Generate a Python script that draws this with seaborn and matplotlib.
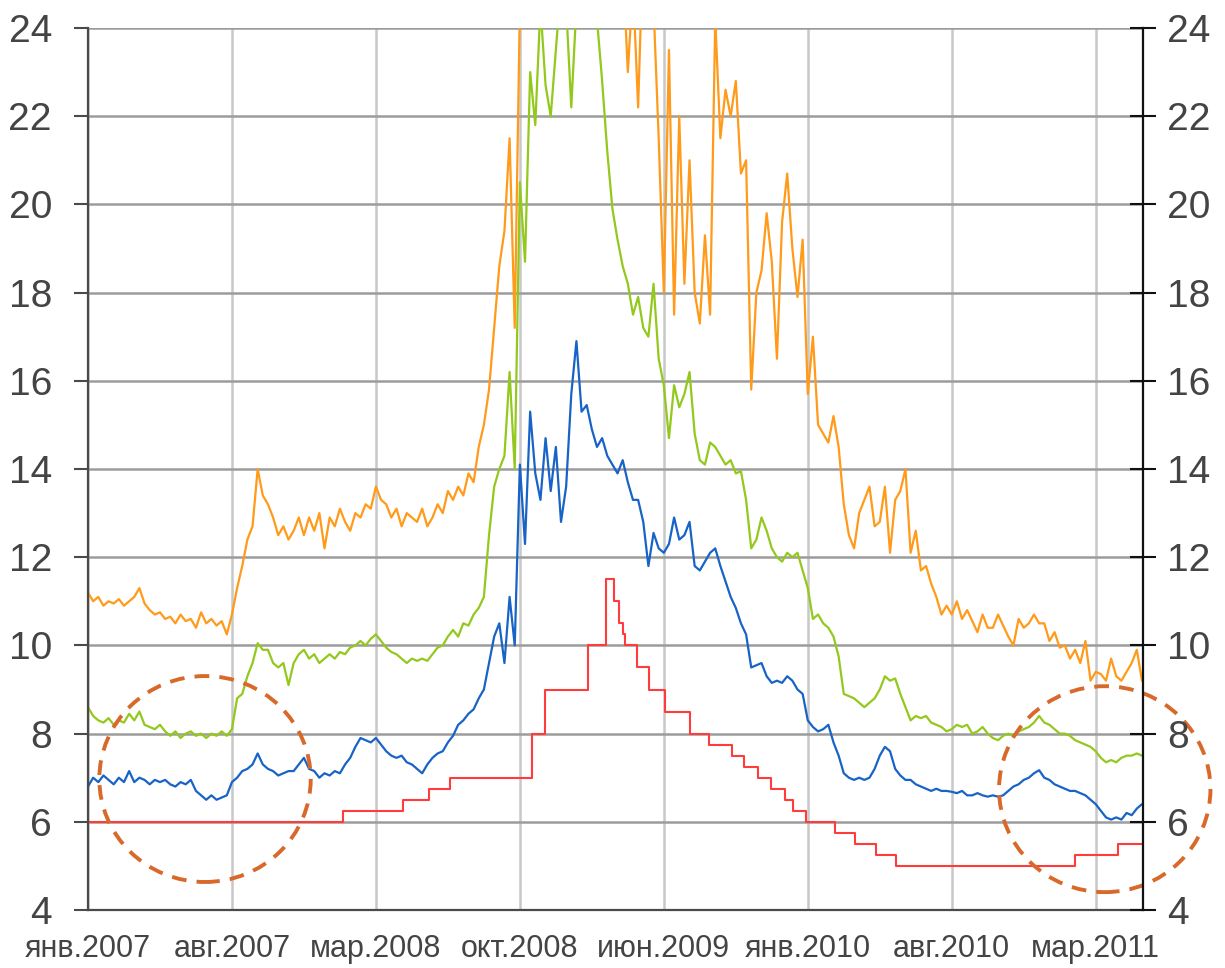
import numpy as np
import pandas as pd
import matplotlib
matplotlib.use('Agg')
import matplotlib.pyplot as plt
from matplotlib.patches import Ellipse
import seaborn as sns

# x in months since Jan 2007, one value every quarter month
step = 0.25
tick_pos = [0, 7, 14, 21, 28, 35, 42, 49]
tick_labels = ['янв.2007', 'авг.2007', 'мар.2008', 'окт.2008',
               'июн.2009', 'янв.2010', 'авг.2010', 'мар.2011']
y_ticks = [4, 6, 8, 10, 12, 14, 16, 18, 20, 22, 24]

orange = [
    11.2, 11.0, 11.1, 10.9, 11.0, 10.95, 11.05, 10.9,
    11.0, 11.1, 11.3, 10.95, 10.8, 10.7, 10.75, 10.6,
    10.65, 10.5, 10.7, 10.55, 10.6, 10.4, 10.75, 10.5,
    10.6, 10.45, 10.55, 10.25, 10.7, 11.3, 11.8, 12.4,
    12.7, 14.0, 13.4, 13.2, 12.9, 12.5, 12.7, 12.4,
    12.6, 12.9, 12.5, 12.9, 12.6, 13.0, 12.2, 12.9,
    12.7, 13.1, 12.8, 12.6, 13.0, 12.9, 13.2, 13.1,
    13.6, 13.3, 13.2, 12.9, 13.1, 12.7, 13.0, 12.9,
    12.8, 13.1, 12.7, 12.9, 13.2, 13.0, 13.5, 13.3,
    13.6, 13.4, 13.9, 13.7, 14.5, 15.0, 15.8, 17.2,
    18.6, 19.4, 21.5, 17.2, 24.5, 26.0, 27.0, 28.0,
    29.0, 30.0, 29.0, 31.0, 30.0, 29.0, 30.0, 31.0,
    30.0, 29.0, 28.0, 29.0, 28.0, 27.0, 28.0, 27.0,
    25.5, 23.0, 25.0, 22.2, 26.0, 25.5, 24.5, 21.5,
    18.0, 23.5, 17.5, 22.0, 18.2, 21.0, 18.0, 17.3,
    19.3, 17.5, 24.2, 21.5, 22.6, 22.0, 22.8, 20.7,
    21.0, 15.8, 18.0, 18.5, 19.8, 18.7, 16.5, 19.6,
    20.7, 19.0, 17.9, 19.2, 15.7, 17.0, 15.0, 14.8,
    14.6, 15.2, 14.5, 13.2, 12.5, 12.2, 13.0, 13.3,
    13.6, 12.7, 12.8, 13.6, 12.1, 13.3, 13.5, 14.0,
    12.1, 12.6, 11.7, 11.8, 11.4, 11.1, 10.7, 10.9,
    10.7, 11.0, 10.6, 10.8, 10.55, 10.3, 10.7, 10.4,
    10.4, 10.7, 10.45, 10.2, 10.0, 10.6, 10.4, 10.5,
    10.7, 10.5, 10.5, 10.1, 10.3, 9.95, 10.0, 9.7,
    9.9, 9.6, 10.1, 9.2, 9.4, 9.35, 9.2, 9.7,
    9.3, 9.2, 9.4, 9.6, 9.9, 9.2,
]

green = [
    8.6, 8.4, 8.3, 8.25, 8.35, 8.2, 8.3, 8.25,
    8.45, 8.3, 8.5, 8.2, 8.15, 8.1, 8.2, 8.05,
    7.95, 8.05, 7.9, 8.0, 8.05, 7.95, 8.0, 7.9,
    8.0, 7.95, 8.05, 7.95, 8.1, 8.8, 8.9, 9.3,
    9.6, 10.05, 9.9, 9.9, 9.6, 9.5, 9.6, 9.1,
    9.6, 9.8, 9.9, 9.7, 9.8, 9.6, 9.7, 9.8,
    9.7, 9.85, 9.8, 9.95, 10.0, 10.1, 10.0, 10.15,
    10.25, 10.1, 9.95, 9.85, 9.8, 9.7, 9.6, 9.7,
    9.65, 9.7, 9.65, 9.8, 9.95, 10.0, 10.2, 10.35,
    10.2, 10.5, 10.45, 10.7, 10.85, 11.1, 12.5, 13.6,
    14.0, 14.3, 16.2, 14.0, 20.5, 18.7, 23.0, 21.8,
    24.5, 22.7, 22.0, 23.5, 25.0, 24.5, 22.2, 24.5,
    25.0, 25.5, 26.0, 24.2, 22.8, 21.2, 19.9, 19.2,
    18.6, 18.2, 17.5, 17.9, 17.2, 17.0, 18.2, 16.5,
    15.9, 14.7, 15.9, 15.4, 15.7, 16.2, 14.8, 14.2,
    14.1, 14.6, 14.5, 14.3, 14.1, 14.2, 13.9, 13.95,
    13.3, 12.2, 12.4, 12.9, 12.6, 12.2, 12.0, 11.9,
    12.1, 12.0, 12.1, 11.7, 11.3, 10.6, 10.7, 10.5,
    10.4, 10.2, 9.75, 8.9, 8.85, 8.8, 8.7, 8.6,
    8.7, 8.8, 9.0, 9.3, 9.2, 9.25, 8.9, 8.6,
    8.3, 8.4, 8.35, 8.4, 8.25, 8.2, 8.15, 8.05,
    8.1, 8.2, 8.15, 8.2, 8.0, 8.05, 8.15, 8.0,
    7.9, 7.85, 7.95, 8.0, 7.95, 8.05, 8.1, 8.15,
    8.25, 8.4, 8.25, 8.2, 8.1, 8.0, 8.0, 7.95,
    7.85, 7.8, 7.75, 7.7, 7.6, 7.45, 7.35, 7.4,
    7.35, 7.45, 7.5, 7.5, 7.55, 7.5,
]

blue = [
    6.8, 7.0, 6.9, 7.05, 6.95, 6.85, 7.0, 6.9,
    7.15, 6.9, 7.0, 6.95, 6.85, 6.95, 6.9, 6.95,
    6.85, 6.8, 6.9, 6.85, 6.95, 6.7, 6.6, 6.5,
    6.6, 6.5, 6.55, 6.6, 6.9, 7.0, 7.15, 7.2,
    7.3, 7.55, 7.3, 7.2, 7.15, 7.05, 7.1, 7.15,
    7.15, 7.3, 7.45, 7.2, 7.15, 7.0, 7.1, 7.05,
    7.15, 7.1, 7.3, 7.45, 7.7, 7.9, 7.85, 7.8,
    7.9, 7.75, 7.6, 7.5, 7.45, 7.5, 7.35, 7.3,
    7.2, 7.1, 7.3, 7.45, 7.55, 7.6, 7.8, 7.95,
    8.2, 8.3, 8.45, 8.55, 8.8, 9.0, 9.6, 10.2,
    10.5, 9.6, 11.1, 10.0, 14.1, 12.3, 15.3, 13.9,
    13.3, 14.7, 13.5, 14.5, 12.8, 13.6, 15.7, 16.9,
    15.3, 15.45, 14.9, 14.5, 14.7, 14.3, 14.1, 13.9,
    14.2, 13.7, 13.3, 13.3, 12.8, 11.8, 12.55, 12.2,
    12.1, 12.3, 12.9, 12.4, 12.5, 12.8, 11.8, 11.7,
    11.9, 12.1, 12.2, 11.8, 11.45, 11.1, 10.85, 10.5,
    10.25, 9.5, 9.55, 9.6, 9.3, 9.15, 9.2, 9.15,
    9.3, 9.2, 9.0, 8.9, 8.3, 8.15, 8.05, 8.1,
    8.2, 7.8, 7.5, 7.1, 7.0, 6.95, 7.0, 6.95,
    7.0, 7.2, 7.5, 7.7, 7.6, 7.2, 7.05, 6.95,
    6.95, 6.85, 6.8, 6.75, 6.7, 6.75, 6.7, 6.7,
    6.68, 6.65, 6.7, 6.6, 6.6, 6.65, 6.6, 6.57,
    6.6, 6.57, 6.6, 6.7, 6.8, 6.85, 6.95, 7.0,
    7.1, 7.17, 7.0, 6.95, 6.85, 6.8, 6.75, 6.7,
    6.7, 6.65, 6.6, 6.5, 6.4, 6.25, 6.1, 6.05,
    6.1, 6.05, 6.2, 6.15, 6.3, 6.4,
]

# step line: month where each level starts
red_start = [0, 12.4, 15.3, 16.6, 17.6, 21.6, 22.2, 24.3, 25.2, 25.6, 25.8,
             26.0, 26.1, 26.7, 27.3, 28.05, 29.25, 30.2, 31.3, 31.9, 32.6,
             33.2, 33.9, 34.3, 34.9, 36.3, 37.3, 38.3, 39.3, 48.0, 50.1]
red_level = [6.0, 6.25, 6.5, 6.75, 7.0, 8.0, 9.0, 10.0, 11.5, 11.0, 10.5,
             10.25, 10.0, 9.5, 9.0, 8.5, 8.0, 7.75, 7.5, 7.25, 7.0,
             6.75, 6.5, 6.25, 6.0, 5.75, 5.5, 5.25, 5.0, 5.25, 5.5]
x_end = 51.3

sns.set_style('white')
plt.rcParams['font.family'] = ['Liberation Sans', 'DejaVu Sans']

fig = plt.figure(figsize=(12.25, 9.68), dpi=100)
ax = fig.add_axes([88 / 1225, 58 / 968, 1055 / 1225, 882 / 968])

months = np.arange(len(orange)) * step
df = pd.DataFrame({'month': months, 'orange': orange, 'green': green, 'blue': blue})

sns.lineplot(data=df, x='month', y='orange', color='#FF9A1A', lw=1.6, ax=ax)
sns.lineplot(data=df, x='month', y='green', color='#93C81C', lw=1.6, ax=ax)
sns.lineplot(data=df, x='month', y='blue', color='#1763C6', lw=1.6, ax=ax)
red_x = red_start + [x_end]
red_y = red_level + [red_level[-1]]
sns.lineplot(x=red_x, y=red_y, drawstyle='steps-post', color='#FF3B3B', lw=1.5, ax=ax)

ax.set_xlim(0, x_end)
ax.set_ylim(4, 24)
ax.set_xlabel('')
ax.set_ylabel('')
ax.set_xticks(tick_pos)
ax.set_xticklabels(tick_labels)
ax.set_yticks(y_ticks)

ax.grid(axis='y', color='#9C9C9C', lw=1.8, zorder=0)
ax.grid(axis='x', color='#C8C8C8', lw=1.8, zorder=0)
ax.set_axisbelow(True)

for side in ['top', 'right']:
    ax.spines[side].set_visible(False)
ax.spines['left'].set_color('#4A4A4A')
ax.spines['left'].set_linewidth(1.6)
ax.spines['bottom'].set_color('#4A4A4A')
ax.spines['bottom'].set_linewidth(1.6)

ax.tick_params(axis='y', direction='out', length=10, width=1.5, color='#4A4A4A',
               pad=16, labelsize=28, labelcolor='#444444', left=True)
ax.tick_params(axis='x', length=0, pad=17, labelsize=22, labelcolor='#444444')

ax2 = ax.twinx()
ax2.set_ylim(4, 24)
ax2.set_yticks(y_ticks)
for side in ['top', 'left', 'bottom']:
    ax2.spines[side].set_visible(False)
ax2.spines['right'].set_color('#111111')
ax2.spines['right'].set_linewidth(1.6)
ax2.tick_params(axis='y', direction='inout', length=19, width=1.5, color='#111111',
                pad=8, labelsize=28, labelcolor='#444444', right=True)

# dashed circles marking the calm periods
for cx, cy in [(5.69, 6.97), (49.44, 6.74)]:
    ax.add_patch(Ellipse((cx, cy), width=10.28, height=4.67, fill=False,
                         edgecolor='#D9692B', lw=2.8, ls=(0, (3.8, 2.6)),
                         clip_on=False, zorder=5))

fig.savefig('out.png', dpi=100)
